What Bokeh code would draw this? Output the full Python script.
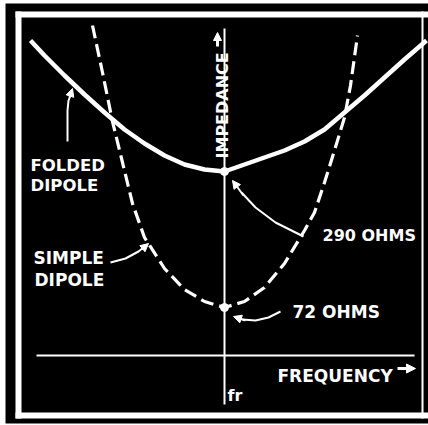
from bokeh.plotting import figure
from bokeh.models import Range1d, Label, Arrow, NormalHead
from bokeh.embed import file_html
from bokeh.resources import INLINE

# ---- data: frequency as f/fr, impedance in relative units
folded_freq = [0.515, 0.55, 0.60, 0.65, 0.70, 0.75, 0.80, 0.85, 0.90, 0.95, 1.00,
               1.05, 1.10, 1.15, 1.20, 1.25, 1.30, 1.35, 1.40, 1.45, 1.505]
folded_imp = [3.15, 3.00, 2.80, 2.61, 2.43, 2.26, 2.12, 2.00, 1.91, 1.86, 1.84,
              1.91, 1.98, 2.05, 2.14, 2.26, 2.43, 2.60, 2.78, 2.96, 3.15]

simple_freq = [0.67, 0.695, 0.72, 0.745, 0.77, 0.80, 0.85, 0.90, 0.95, 1.00,
               1.05, 1.10, 1.15, 1.20, 1.225, 1.25, 1.275, 1.30, 1.315, 1.3325]
simple_imp = [3.30, 2.83, 2.34, 1.93, 1.52, 1.18, 0.87, 0.66, 0.54, 0.48,
              0.54, 0.68, 0.92, 1.25, 1.43, 1.73, 2.05, 2.38, 2.70, 3.20]

resonance_freq = [1.0, 1.0]
resonance_imp = [1.84, 0.48]
resonance_labels = ["290 OHMS", "72 OHMS"]
folded_label = ["FOLDED", "DIPOLE"]
simple_label = ["SIMPLE", "DIPOLE"]
x_label = "FREQUENCY"
y_label = "IMPEDANCE"
fr_label = "fr"


# pixel helpers for decorations (picture pixels -> data units)
def fx(px):
    return 1 + (px - 224) / 400.0


def zy(py):
    return (355 - py) / 100.0


W, H = 428, 425
p = figure(width=W, height=H, output_backend="svg", toolbar_location=None,
           x_range=Range1d(fx(0), fx(W)), y_range=Range1d(zy(H), zy(0)),
           min_border=0)
p.min_border_left = 0
p.min_border_right = 0
p.min_border_top = 0
p.min_border_bottom = 0
p.axis.visible = False
p.grid.visible = False
p.background_fill_color = "white"
p.border_fill_color = "white"
p.outline_line_color = None

WHITE = "white"

# frame: black board with inner white border
p.quad(left=fx(5), right=fx(W + 2), top=zy(3), bottom=zy(423), color="black", line_width=0)
p.quad(left=[fx(15), fx(15), fx(15), fx(421)],
       right=[fx(21), fx(W + 2), fx(W + 2), fx(423)],
       top=[zy(11), zy(11), zy(412), zy(11)],
       bottom=[zy(418), zy(17), zy(418), zy(418)],
       color=WHITE, line_width=0)

# axes lines
p.line([fx(36), fx(414)], [0, 0], line_color=WHITE, line_width=2)
p.line([1.0, 1.0], [zy(404), zy(28)], line_color=WHITE, line_width=2)

# curves
p.line(folded_freq, folded_imp, line_color=WHITE, line_width=4.5)
p.line(simple_freq, simple_imp, line_color=WHITE, line_width=3.2, line_dash="13 6")
p.scatter(resonance_freq, resonance_imp, size=8, color=WHITE)

FONT = "DejaVu Sans"


def label(txt, px, py, size="17px", angle=0.0, align="left"):
    p.add_layout(Label(x=fx(px), y=zy(py), text=txt, text_color=WHITE,
                       text_font=FONT, text_font_style="bold",
                       text_font_size=size, text_baseline="alphabetic",
                       text_align=align, angle=angle))


def arrow(x0, y0, x1, y1, size=8, lw=2):
    p.add_layout(Arrow(end=NormalHead(size=size, fill_color=WHITE, line_color=WHITE),
                       x_start=fx(x0), y_start=zy(y0), x_end=fx(x1), y_end=zy(y1),
                       line_color=WHITE, line_width=lw))


def path(pts, lw=2):
    p.line([fx(a) for a, b in pts], [zy(b) for a, b in pts], line_color=WHITE, line_width=lw)


# text labels
label(folded_label[0], 30, 165, size="16.5px")
label(folded_label[1], 30, 185, size="16.5px")
label(simple_label[0], 33, 257)
label(simple_label[1], 34, 279)
label(resonance_labels[0], 322, 235, size="16px")
label(resonance_labels[1], 292, 311)
label(x_label, 277, 375)
label(fr_label, 227, 395, size="16px")
label(y_label, 222, 158, size="16px", angle=1.5708)

# axis-label arrows
arrow(397, 368, 415, 368, size=9, lw=3)
arrow(217, 46, 217, 32, size=8, lw=3)

# annotation arrows
path([(67, 141), (67, 110), (68, 100), (70, 95)])
arrow(69, 97, 72, 88)
path([(110, 262), (125, 258), (138, 251), (143, 247)])
arrow(141, 249, 148, 243)
path([(303, 236), (275, 222), (255, 207), (241, 192)])
arrow(243, 195, 232, 180)
path([(280, 311), (268, 317), (255, 320), (242, 319)])
arrow(245, 320, 233, 316)

open("out.html", "w").write(file_html(p, INLINE))
